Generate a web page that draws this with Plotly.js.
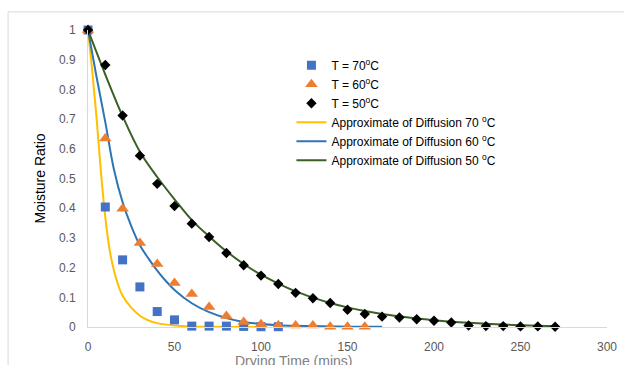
<!DOCTYPE html>
<html>
<head>
<meta charset="utf-8">
<script src="https://cdn.plot.ly/plotly-3.0.1.min.js"></script>
<style>html,body{margin:0;padding:0;background:#fff;}#chart{width:624px;height:365px;}</style>
</head>
<body>
<div id="chart"></div>
<script>
// Measured points
const tSq = [0,10,20,30,40,50,60,70,80,90,100,110];
const mr70 = [1,0.404,0.226,0.135,0.052,0.024,0.003,0.003,0.003,0.002,0.001,0.001];
const tTri = [0,10,20,30,40,50,60,70,80,90,100,110,120,130,140,150,160];
const mr60 = [1,0.635,0.398,0.283,0.212,0.148,0.111,0.067,0.037,0.017,0.009,0.006,0.005,0.005,0.001,0.001,0.001];
const tDia = [0,10,20,30,40,50,60,70,80,90,100,110,120,130,140,150,160,170,180,190,200,210,220,230,240,250,260,270];
const mr50 = [1,0.882,0.712,0.577,0.482,0.407,0.348,0.303,0.249,0.208,0.173,0.145,0.115,0.097,0.081,0.058,0.044,0.035,0.032,0.026,0.021,0.015,0.005,0.003,0.003,0.002,0.002,0.001];
// Approximate diffusion curves
const tFit70 = [0,2.5,5,7.5,10,12.5,15,17.5,20,25,30,35,40,50,60,70,80,90,100];
const fit70 = [1,0.86,0.70,0.52,0.37,0.26,0.19,0.14,0.105,0.065,0.038,0.022,0.013,0.005,0.002,0.001,0.0005,0.0003,0.0002];
const tFit60 = [0,5,10,15,20,25,30,35,40,45,50,60,70,80,90,100,110,120,130,140,150,160,170];
const fit60 = [1,0.84,0.69,0.53,0.42,0.34,0.275,0.23,0.19,0.155,0.125,0.08,0.05,0.03,0.017,0.01,0.006,0.004,0.003,0.002,0.001,0.001,0.0005];
const tFit50 = [0,10,20,30,40,50,60,70,80,90,100,110,120,130,140,150,160,170,180,190,200,210,220,230,240,250,260,270];
const fit50 = [1,0.85,0.71,0.59,0.505,0.43,0.36,0.305,0.255,0.212,0.176,0.146,0.12,0.099,0.081,0.066,0.054,0.044,0.036,0.029,0.023,0.018,0.014,0.011,0.008,0.006,0.004,0.003];
const xTicks = [0,50,100,150,200,250,300];
const yTicks = [0,0.1,0.2,0.3,0.4,0.5,0.6,0.7,0.8,0.9,1];
const yTickText = ['0','0.1','0.2','0.3','0.4','0.5','0.6','0.7','0.8','0.9','1'];
const xTitle = 'Drying Time (mins)';
const yTitle = 'Moisture Ratio';

const data = [
  {x:tFit70, y:fit70, mode:'lines', name:'Approximate of Diffusion 70 <sup>o</sup>C', line:{color:'#FFC000', width:2, shape:'spline'}, legendrank:4, cliponaxis:false},
  {x:tFit60, y:fit60, mode:'lines', name:'Approximate of Diffusion 60 <sup>o</sup>C', line:{color:'#2E75B6', width:2, shape:'spline'}, legendrank:5, cliponaxis:false},
  {x:tFit50, y:fit50, mode:'lines', name:'Approximate of Diffusion 50 <sup>o</sup>C', line:{color:'#3B5F25', width:2, shape:'spline'}, legendrank:6, cliponaxis:false},
  {x:tSq, y:mr70, mode:'markers', name:'T = 70<sup>o</sup>C', marker:{symbol:'square', color:'#4472C4', size:9}, legendrank:1, cliponaxis:false},
  {x:tTri, y:mr60, mode:'markers', name:'T = 60<sup>o</sup>C', marker:{symbol:'triangle-up', color:'#ED7D31', size:11}, legendrank:2, cliponaxis:false},
  {x:tDia, y:mr50, mode:'markers', name:'T = 50<sup>o</sup>C', marker:{symbol:'diamond', color:'#000000', size:8}, legendrank:3, cliponaxis:false}
];

const layout = {
  width:624, height:365,
  margin:{l:88, r:17, t:30, b:38},
  paper_bgcolor:'#fff', plot_bgcolor:'#fff',
  font:{family:'Liberation Sans, Arial, sans-serif', size:12, color:'#595959'},
  showlegend:true,
  legend:{x:0.392, y:0.93, xanchor:'left', yanchor:'top', bgcolor:'rgba(255,255,255,0)', font:{size:12, color:'#000'}, itemwidth:30},
  xaxis:{range:[0,300], tickvals:xTicks, ticktext:xTicks.map(String), showgrid:false, zeroline:false, showline:true, linecolor:'#d9d9d9', linewidth:1, ticks:'', ticklabelstandoff:9, automargin:false, fixedrange:true},
  yaxis:{range:[0,1], tickvals:yTicks, ticktext:yTickText, showgrid:false, zeroline:false, showline:true, linecolor:'#d9d9d9', linewidth:1, ticks:'', ticklabelstandoff:9,
    title:{text:yTitle, font:{size:14, color:'#000'}, standoff:10}, automargin:false, fixedrange:true},
  annotations:[
    {text:xTitle, xref:'paper', yref:'paper', x:0.395, y:-0.116, xanchor:'center', yanchor:'middle', showarrow:false, font:{size:14, color:'#808080'}}
  ],
  shapes:[
    {type:'line', xref:'paper', yref:'paper', x0:-0.154, x1:1.1, y0:1.061, y1:1.061, line:{color:'#d9d9d9', width:1}},
    {type:'line', xref:'paper', yref:'paper', x0:-0.154, x1:-0.154, y0:1.061, y1:-0.2, line:{color:'#d9d9d9', width:1}}
  ]
};
Plotly.newPlot('chart', data, layout, {displayModeBar:false, staticPlot:true});
</script>
</body>
</html>
